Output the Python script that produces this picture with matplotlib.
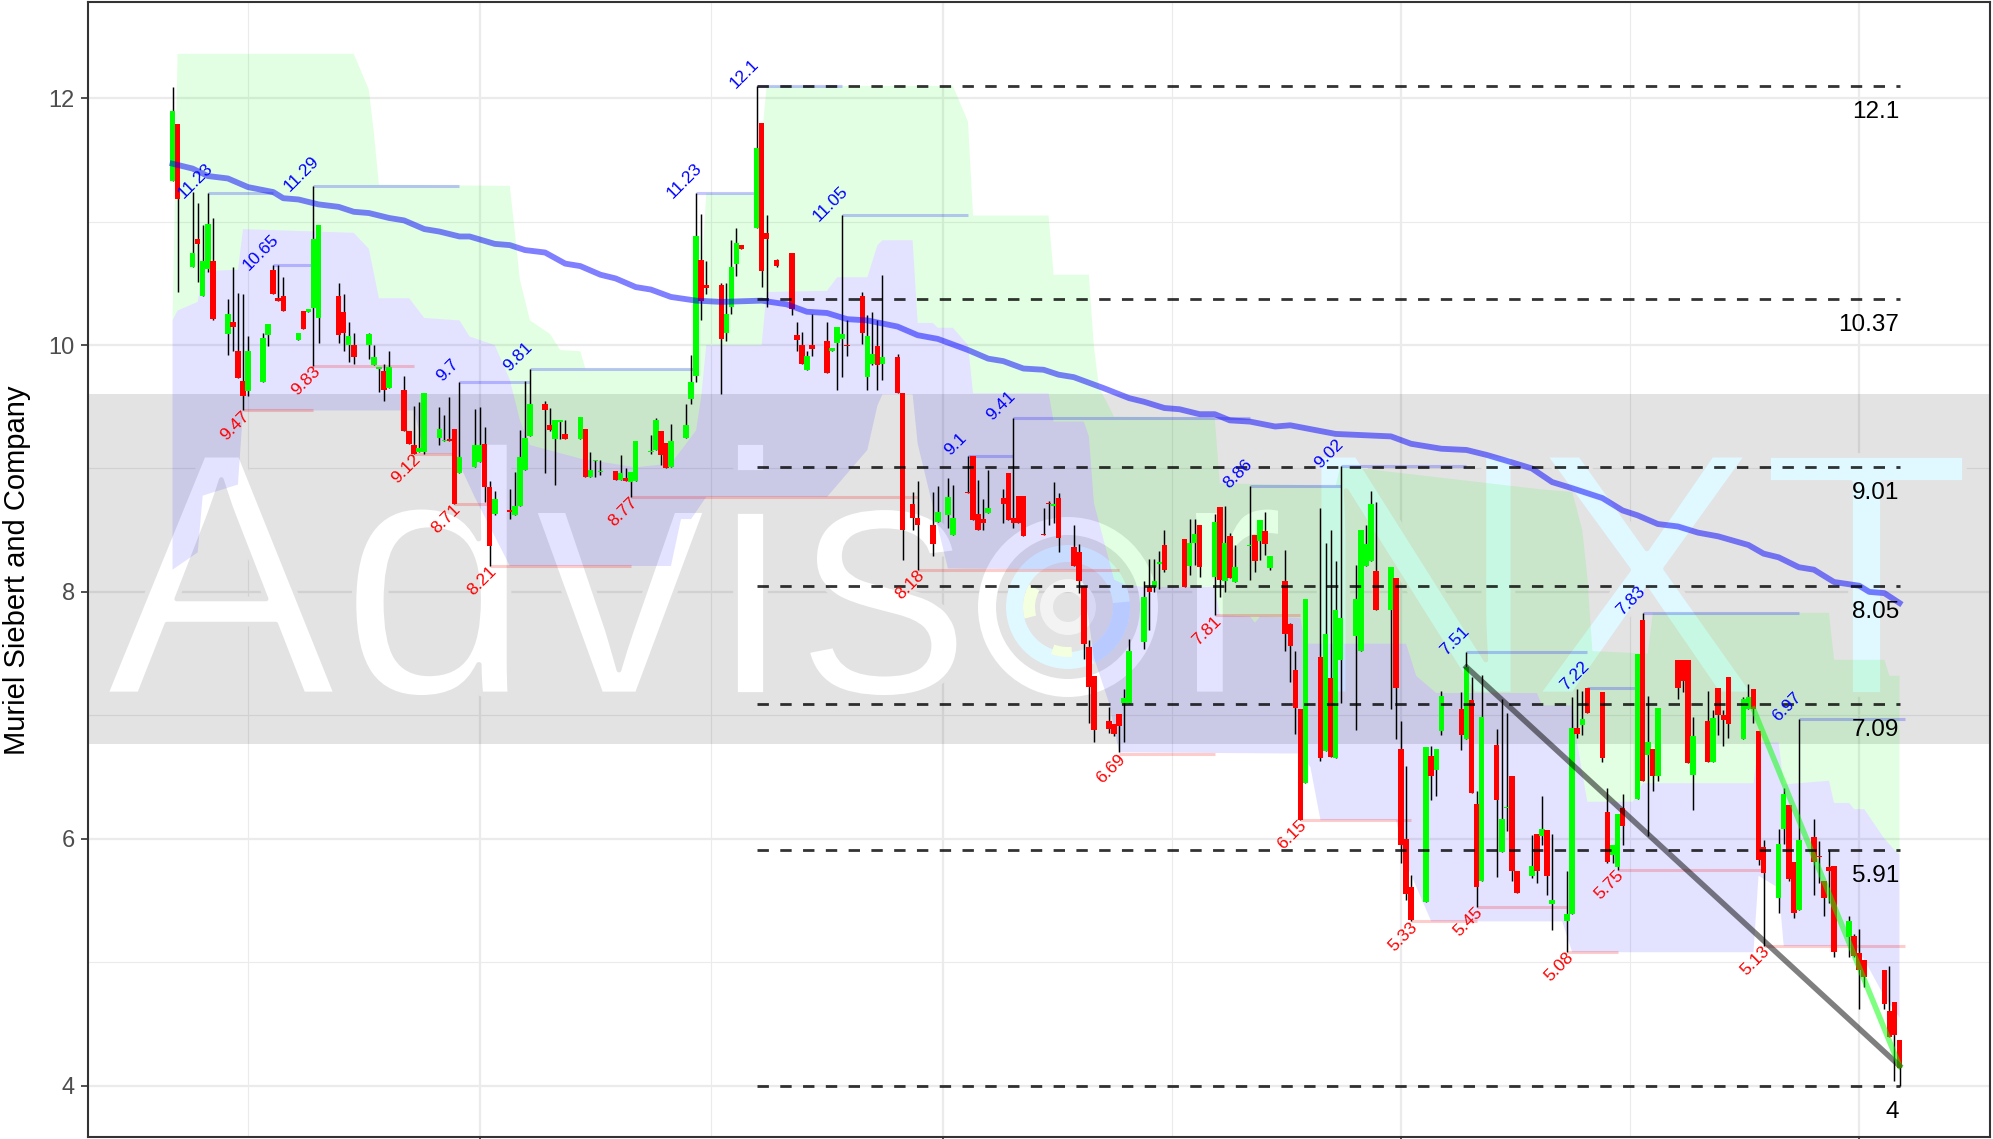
# -*- coding: utf-8 -*-
import matplotlib
matplotlib.use("Agg")
import matplotlib.pyplot as plt
import matplotlib.patheffects as pe
from matplotlib.font_manager import FontProperties
from matplotlib.patches import Wedge
from matplotlib.textpath import TextPath
from matplotlib.transforms import IdentityTransform
import numpy as np

plt.rcParams["font.family"] = ["Liberation Sans", "DejaVu Sans"]

# candles, x is calendar days from the first bar
days = [0,1,4,5,6,7,8,11,12,13,14,15,18,19,20,21,22,25,26,27,28,29,33,34,35,36,39,40,41,42,43,46,47,48,49,50,53,54,55,56,57,
        60,61,62,63,64,67,68,69,70,71,74,75,76,77,78,81,82,83,84,85,88,89,90,91,92,95,96,97,98,99,102,103,104,105,106,109,110,111,112,113,
        116,117,118,120,123,124,125,126,127,130,131,132,133,134,137,138,139,140,141,144,145,147,148,151,152,154,155,158,159,160,161,162,165,166,167,168,169,
        173,174,175,176,179,180,181,182,183,186,187,188,189,190,193,194,195,196,197,201,202,203,204,207,208,209,210,211,214,215,216,217,218,
        221,222,223,224,225,228,229,230,231,232,235,236,237,238,239,242,243,244,245,246,249,250,251,252,256,257,258,259,260,263,264,265,266,267,
        270,271,272,273,274,277,278,279,280,281,284,285,286,287,288,291,292,293,294,295,299,300,301,302,305,306,307,308,309,312,313,314,315,316,
        319,320,321,322,323,326,327,328,329,330,333,334,335,336,340,341,342,343]
opens = [11.33,11.79,10.63,10.86,10.40,10.62,10.68,10.09,10.19,9.95,9.71,9.63,9.70,10.08,10.61,10.38,10.40,10.04,10.28,10.27,10.30,10.22,10.40,10.27,10.00,10.00,10.00,9.84,9.81,9.79,9.65,9.64,9.30,9.19,9.13,9.13,9.25,9.22,9.24,9.32,8.96,
         9.01,9.05,9.20,8.85,8.63,8.66,8.62,8.70,8.99,9.26,9.52,9.35,9.24,9.38,9.28,9.24,9.32,8.93,9.06,8.97,8.98,8.91,8.92,8.89,8.90,9.13,9.15,9.30,9.21,9.01,9.25,9.56,9.75,10.69,10.49,10.49,10.10,10.31,10.66,10.81,
         10.95,11.80,10.91,10.69,10.75,10.08,10.00,9.80,10.00,10.03,9.95,10.02,10.05,10.00,10.40,9.74,9.85,9.99,9.85,9.90,9.61,8.71,8.60,8.54,8.57,8.62,8.46,8.81,9.10,8.63,8.59,8.64,8.76,8.96,8.60,8.78,8.78,
         8.47,8.72,8.70,8.76,8.36,8.32,8.05,7.55,7.32,6.95,6.93,7.01,7.10,7.10,7.59,8.04,8.04,8.23,8.38,8.43,8.21,8.40,8.54,8.12,8.69,8.09,8.45,8.08,8.37,8.46,8.41,8.49,8.19,
         8.09,7.74,7.37,7.05,6.45,7.47,6.71,7.30,6.65,7.45,7.64,7.52,8.21,8.25,8.17,7.85,8.11,6.73,6.00,5.61,5.49,6.67,6.56,6.87,7.05,6.81,7.12,6.28,5.66,6.76,5.89,6.25,6.51,5.74,
         5.70,6.04,6.02,6.07,5.47,5.33,5.39,6.90,6.92,7.22,7.19,6.22,5.87,5.77,6.25,6.32,7.77,6.68,6.73,6.51,7.45,7.45,7.45,6.52,6.95,6.62,7.22,7.00,7.31,6.81,7.05,7.21,6.87,5.93,
         5.52,6.08,6.27,5.81,5.42,6.01,5.86,5.66,5.77,5.78,5.20,5.21,5.07,5.02,4.94,4.60,4.68,4.37]
closes = [11.90,11.18,10.75,10.82,10.68,10.98,10.21,10.25,10.15,9.73,9.59,9.95,10.06,10.17,10.41,10.36,10.28,10.10,10.13,10.29,10.86,10.97,10.08,10.10,10.07,9.90,10.09,9.90,9.82,9.64,9.82,9.30,9.20,9.12,9.17,9.61,9.32,9.23,9.22,8.71,9.09,
          9.19,9.19,8.85,8.37,8.75,8.65,8.70,9.09,9.25,9.52,9.47,9.31,9.39,9.39,9.24,9.42,8.93,8.99,9.07,8.98,8.91,8.96,8.90,8.97,9.22,9.14,9.39,9.11,9.00,9.22,9.35,9.70,10.88,10.36,10.46,10.05,10.25,10.63,10.83,10.78,
          11.60,10.60,10.86,10.64,10.29,10.04,9.85,9.91,9.97,9.77,9.98,10.15,10.09,9.99,10.10,10.07,9.93,9.84,9.90,9.61,8.50,8.60,8.54,8.39,8.65,8.77,8.60,8.80,8.58,8.50,8.56,8.68,8.71,8.58,8.56,8.56,8.45,
          8.46,8.71,8.71,8.44,8.21,8.09,7.58,7.23,6.88,6.89,6.85,6.91,7.14,7.52,7.96,8.00,8.09,8.24,8.18,8.04,8.40,8.47,8.20,8.57,8.10,8.40,8.11,8.20,8.38,8.25,8.58,8.39,8.29,
          7.66,7.56,7.06,6.15,7.94,6.65,7.66,6.66,7.85,7.79,7.94,8.50,8.39,8.71,7.85,8.20,7.22,5.95,5.55,5.34,6.74,6.51,6.73,7.16,6.84,7.39,6.37,5.61,6.99,6.31,6.16,6.26,5.74,5.56,
          5.78,5.74,6.08,5.70,5.50,5.39,6.90,6.85,6.97,7.02,6.65,5.81,5.95,6.20,6.10,7.50,6.47,6.78,6.51,7.06,7.22,7.28,6.61,6.83,6.62,6.98,7.00,6.96,6.93,7.13,7.15,7.05,5.83,5.72,
          5.96,6.36,5.67,5.40,5.99,5.81,5.85,5.52,5.74,5.08,5.33,5.05,4.94,4.88,4.66,4.39,4.41,4.14]
highs = [12.09,11.79,11.24,11.15,10.97,11.23,11.03,10.37,10.63,10.42,10.41,10.07,10.10,10.17,10.65,10.65,10.55,10.10,10.28,10.29,11.29,10.97,10.50,10.41,10.19,10.10,10.10,10.00,9.82,9.85,9.95,9.75,9.30,9.51,9.54,9.61,9.50,9.43,9.58,9.32,9.70,
         9.48,9.50,9.34,8.90,8.82,8.83,8.97,9.31,9.71,9.81,9.55,9.49,9.39,9.39,9.39,9.42,9.32,9.13,9.07,9.07,8.98,9.11,9.00,8.97,9.22,9.27,9.41,9.30,9.21,9.36,9.52,9.92,11.23,11.06,10.68,10.50,10.50,10.85,10.95,10.81,
         12.10,11.80,11.05,10.70,10.75,10.19,10.11,9.95,10.25,10.19,9.98,10.15,11.05,10.20,10.43,10.24,10.27,10.20,10.57,9.93,9.61,8.81,8.90,8.81,8.86,8.92,8.87,9.10,9.10,8.91,8.75,8.99,8.83,8.96,9.41,8.78,8.78,
         8.68,8.74,8.89,8.80,8.54,8.39,8.05,7.61,7.32,7.07,6.93,7.01,7.21,7.62,8.09,8.27,8.27,8.33,8.50,8.43,8.59,8.59,8.54,8.63,8.69,8.70,8.48,8.38,8.86,8.46,8.58,8.65,8.29,
         8.34,7.75,7.52,7.05,7.94,8.68,8.40,8.50,8.25,9.02,8.22,8.50,8.54,8.82,8.73,8.20,8.11,6.95,6.59,5.71,6.74,6.75,6.73,7.20,7.19,7.51,7.31,6.39,7.33,6.89,7.13,7.02,6.51,5.74,
         6.03,6.04,6.35,6.07,6.04,5.74,7.15,7.21,7.20,7.22,7.19,6.41,5.95,6.20,6.36,7.50,7.83,7.16,6.73,7.06,7.45,7.45,7.45,6.99,7.20,7.04,7.22,7.04,7.31,7.15,7.25,7.21,6.87,5.99,
         6.08,6.41,6.27,5.81,6.97,6.16,5.98,5.66,5.91,5.78,5.37,5.23,5.27,5.02,4.94,4.97,4.68,4.37]
lows = [11.33,10.43,10.63,10.51,10.40,10.59,10.20,9.92,9.95,9.73,9.47,9.59,9.70,9.99,10.41,10.36,10.28,10.04,10.13,10.27,9.83,10.02,10.02,9.95,9.86,9.85,9.89,9.84,9.62,9.55,9.65,9.30,9.20,9.12,9.13,9.12,9.19,9.22,9.22,8.71,8.96,
        9.01,9.05,8.73,8.21,8.62,8.59,8.62,8.70,8.99,9.26,8.96,9.30,8.87,9.24,9.24,9.24,8.93,8.93,8.93,8.95,8.91,8.91,8.90,8.77,8.90,9.12,9.15,9.03,9.00,9.01,9.25,9.52,9.70,10.20,10.41,9.60,10.03,10.25,10.56,10.78,
        10.95,10.47,10.31,10.63,10.24,9.95,9.85,9.80,9.91,9.77,9.95,9.64,9.74,9.91,10.01,9.64,9.84,9.64,9.72,9.61,8.26,8.50,8.18,8.29,8.57,8.52,8.46,8.80,8.58,8.50,8.50,8.64,8.56,8.58,8.52,8.56,8.45,
        8.46,8.54,8.56,8.32,8.21,7.99,7.46,6.94,6.78,6.86,6.83,6.70,6.78,7.10,7.54,7.69,8.00,8.02,8.16,8.04,8.14,8.22,8.12,7.81,7.96,8.00,8.11,8.08,8.10,8.16,8.26,8.30,8.18,
        7.52,7.27,6.85,6.15,6.45,6.63,6.71,6.66,6.65,7.10,6.88,7.52,8.21,8.25,7.85,7.05,6.81,5.80,5.50,5.33,5.49,6.31,6.35,6.84,6.72,6.81,6.37,5.45,5.66,5.69,5.89,6.06,5.66,5.56,
        5.68,5.64,5.95,5.54,5.26,5.08,5.39,6.82,6.84,7.02,6.62,5.80,5.80,5.75,5.95,6.32,6.47,6.02,6.39,6.47,7.13,7.19,6.61,6.23,6.62,6.62,6.84,6.75,6.82,6.81,7.05,6.94,5.79,5.13,
        5.40,5.96,5.66,5.36,5.42,5.54,5.64,5.37,5.48,5.04,5.04,5.04,4.62,4.80,4.62,4.39,4.04,4.00]

# moving average
ma_days = [0,4,7,11,15,20,22,25,29,33,36,39,43,46,50,53,57,59,64,67,70,74,78,81,85,88,92,95,99,104,109,117,122,126,130,134,138,144,148,
           152,156,158,162,165,169,173,176,179,185,190,193,197,200,204,207,210,214,219,222,231,242,246,252,257,261,266,270,274,278,284,288,291,
           295,299,303,307,313,316,319,323,326,330,335,337,340,343]
ma_vals = [11.47,11.43,11.37,11.35,11.28,11.24,11.19,11.18,11.14,11.12,11.08,11.07,11.03,11.01,10.94,10.92,10.88,10.88,10.82,10.81,10.77,10.75,10.66,10.64,10.57,10.54,10.47,10.45,10.39,10.36,10.35,10.36,10.33,10.27,10.26,10.21,10.20,10.15,10.08,
           10.05,9.99,9.96,9.89,9.87,9.81,9.80,9.76,9.74,9.65,9.57,9.54,9.49,9.48,9.44,9.44,9.39,9.38,9.34,9.35,9.28,9.26,9.20,9.16,9.15,9.11,9.05,9.00,8.89,8.84,8.76,8.66,8.62,
           8.55,8.53,8.48,8.45,8.38,8.31,8.28,8.20,8.18,8.08,8.05,8.00,7.99,7.91]

# ribbon edges
upper_days = [0,1,36,39,40,41,67,69,71,75,77,81,82,104,106,116,118,155,158,159,174,175,182,183,184,187,207,208,231,232,272,278,280,281,282,293,294,329,330,340,341,343]
upper_vals = [10.2,12.36,12.36,12.07,11.72,11.30,11.29,10.53,10.2,10.09,9.96,9.95,9.81,9.81,11.23,11.23,12.1,12.1,11.81,11.05,11.05,10.57,10.57,9.99,9.66,9.42,9.41,8.88,8.86,9.02,8.83,8.81,8.5,8.12,7.52,7.50,7.83,7.83,7.45,7.45,7.32,7.32]
mid_days = [0,1,5,6,13,14,36,39,41,47,50,57,59,64,67,69,71,81,92,99,102,104,105,106,117,118,130,132,138,140,141,147,148,151,152,155,158,159,174,175,181,182,183,187,189,193,207,208,214,215,216,224,225,245,247,251,271,272,278,279,281,290,292,314,315,319,320,329,330,333,334,336,340,342,343]
mid_vals = [10.2,10.28,10.35,10.6,10.61,10.94,10.91,10.78,10.38,10.38,10.22,10.2,10.07,10.0,9.72,9.39,9.19,9.08,9.01,9.04,9.20,9.31,9.58,10.0,10.0,10.43,10.44,10.55,10.55,10.81,10.85,10.85,10.18,10.18,10.14,10.14,10.0,9.61,9.61,9.38,9.38,9.26,8.72,8.10,8.06,8.04,8.04,7.81,7.80,7.75,7.80,7.79,7.58,7.58,7.32,7.18,7.18,7.08,7.08,6.77,6.30,6.30,6.45,6.45,6.78,6.78,6.44,6.47,6.29,6.29,6.24,6.24,6.0,5.91,5.87]
lower_days = [0,5,6,13,14,48,50,56,60,67,99,101,103,106,130,138,140,141,147,148,154,180,181,183,186,188,224,226,228,243,245,250,276,278,314,315,319,320,334,336,340,343]
lower_vals = [8.18,8.32,8.78,8.87,9.47,9.47,9.12,9.12,8.77,8.21,8.21,8.59,8.59,8.77,8.77,9.15,9.51,9.60,9.60,9.2,8.19,8.18,8.05,7.47,7.1,6.70,6.69,6.58,6.15,6.15,5.80,5.33,5.33,5.08,5.08,5.70,5.60,5.13,5.13,5.02,4.72,4.55]

# swing highs and lows
high_days = [7,20,28,57,71,104,116,133,158,167,214,232,257,281,292,323]
high_vals = [11.23,10.65,11.29,9.7,9.81,11.23,12.1,11.05,9.1,9.41,8.86,9.02,7.51,7.22,7.83,6.97]
low_days = [14,28,48,56,63,91,148,188,207,224,246,259,277,287,316]
low_vals = [9.47,9.83,9.12,8.71,8.21,8.77,8.18,6.69,7.81,6.15,5.33,5.45,5.08,5.75,5.13]

# horizontal levels
levels = [12.1,10.37,9.01,8.05,7.09,5.91,4]
level_start = 116
level_end = 343

# trend lines
trend_days = [257,343]
trend_vals = [7.39,4.16]
trend2_days = [314,343]
trend2_vals = [7.05,4.16]

# watermark letters and the centre of their ink in pixels
wm_white = ["A","d","v","i","s","r"]
wm_white_x = [221,432,620,750,883,1237]
wm_cyan = ["N","X","T"]
wm_cyan_x = [1416,1646,1866]
wm_size = 250

W,H = 1993,1139
fig = plt.figure(figsize=(W/100,H/100),dpi=100)
ax = fig.add_axes([87.5/W,1-1136.5/H,(1990-87.5)/W,(1136.5-2)/H])
ax.set_xlim((87.5-172.5)/5.035,(1990-172.5)/5.035)
ax.set_ylim(3.587,12.78)

# grid like theme_bw
ax.set_axisbelow(True)
ax.set_xticks([61,153,244,335])
ax.set_xticks([15,107,198.5,289.5],minor=True)
ax.set_yticks([4,6,8,10,12])
ax.set_yticks([5,7,9,11],minor=True)
ax.set_xticklabels([])
ax.grid(which="major",color="#EBEBEB",lw=1.6,zorder=0)
ax.grid(which="minor",color="#EBEBEB",lw=0.8,zorder=0)
ax.tick_params(axis="y",which="major",length=5,width=1.2,color="#333333",labelcolor="#4D4D4D",labelsize=17,pad=4)
ax.tick_params(axis="x",which="major",length=4,width=1.2,color="#333333")
ax.tick_params(which="minor",length=0)
for s in ax.spines.values():
    s.set_linewidth(1.5)
    s.set_color("#333333")
    s.set_zorder(20)

# grey band
ax.axhspan(6.77,9.6,color="black",alpha=0.11,lw=0,zorder=1)

# watermark, the band coloured edge thins the letters down
def wm_letter(ch,centre,col):
    ext = TextPath((0,0),ch,size=wm_size*100/72,prop=FontProperties(family="Liberation Sans")).get_extents()
    ax.text(centre-(ext.x0+ext.x1)/2,H-694,ch,transform=IdentityTransform(),color=col,fontsize=wm_size,
            ha="left",va="baseline",zorder=2,
            path_effects=[pe.Stroke(linewidth=3.4,foreground="#E3E3E3")])
for ch,x in zip(wm_white,wm_white_x):
    wm_letter(ch,x,"white")
for ch,x in zip(wm_cyan,wm_cyan_x):
    wm_letter(ch,x,"#E0F8FF")
cx,cy = 1068,H-607
rings = [(90,18,0,360,"white"),(62,17,0,360,"#E0F8FF"),(62,17,-65,5,"#CFE3FF"),
         (45,12,150,195,"#F4FFE0"),(28,13,0,360,"#F3F3F3"),(50,10,250,275,"#F4FFE0")]
for r,w,t1,t2,c in rings:
    ax.add_patch(Wedge((cx,cy),r,t1,t2,width=w,facecolor=c,edgecolor="none",
                       transform=IdentityTransform(),zorder=2))

# ribbons
ax.fill(np.r_[upper_days,mid_days[::-1]],np.r_[upper_vals,mid_vals[::-1]],color=(0,1,0),alpha=0.11,lw=0,zorder=3)
ax.fill(np.r_[mid_days,lower_days[::-1]],np.r_[mid_vals,lower_vals[::-1]],color=(0,0,1),alpha=0.11,lw=0,zorder=3)

# swing lines
high_ends = high_days[1:]+[344]
low_ends = low_days[1:]+[344]
ax.hlines(high_vals,high_days,high_ends,color="blue",alpha=0.22,lw=2.2,zorder=4)
ax.hlines(low_vals,low_days,low_ends,color="red",alpha=0.2,lw=2.2,zorder=4)

# candles
opens = np.array(opens)
closes = np.array(closes)
cols = np.where(closes>=opens,"#00FF00","#FF0000")
ax.vlines(days,lows,highs,color="black",lw=1.05,zorder=5)
ax.bar(days,np.abs(closes-opens),bottom=np.minimum(opens,closes),width=1.1,color=cols,lw=0,zorder=6)

# moving average and trends
ax.plot(ma_days,ma_vals,color="blue",alpha=0.5,lw=4.2,zorder=7,solid_joinstyle="round")
ax.plot(trend_days,trend_vals,color="black",alpha=0.5,lw=4,zorder=7)
ax.plot(trend2_days,trend2_vals,color="#00FF00",alpha=0.5,lw=4,zorder=7)

# dashed levels with labels under them
ax.hlines(levels,level_start,level_end,color="black",alpha=0.8,lw=2,linestyles=(0,(4.1,4.1)),zorder=8)
for v in levels:
    ax.annotate(str(v),(342.6,v),xytext=(2,-26),textcoords="offset pixels",ha="right",va="center",
                fontsize=17.5,color="black",zorder=10)

# rotated swing labels
for d,v in zip(high_days,high_vals):
    ax.annotate(str(v),(d,v),xytext=(-12,12),textcoords="offset pixels",ha="center",va="center",
                rotation=45,rotation_mode="anchor",fontsize=12.5,color="blue",zorder=10)
for d,v in zip(low_days,low_vals):
    ax.annotate(str(v),(d,v),xytext=(-8,-15),textcoords="offset pixels",ha="center",va="center",
                rotation=45,rotation_mode="anchor",fontsize=12.5,color="red",zorder=10)

fig.text(17/W,1-570/H,"Muriel Siebert and Company",rotation=90,ha="center",va="center",fontsize=21,color="black")

fig.savefig("out.png",dpi=100)
